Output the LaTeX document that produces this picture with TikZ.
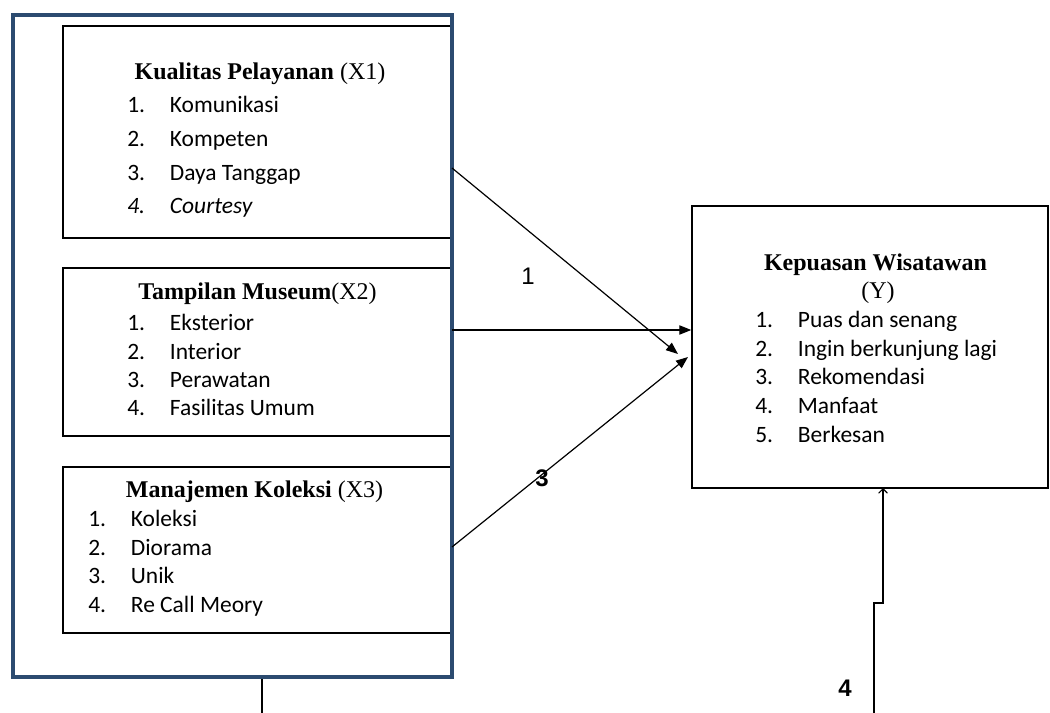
\documentclass[tikz,border=0pt]{standalone}
\usepackage{fontspec}
\setmainfont{Liberation Serif}
\newfontfamily\calfont{Carlito}
\newfontfamily\arialfont{Liberation Sans}
\usepackage{xcolor}
\usepackage{tikz}
\usetikzlibrary{arrows,arrows.meta,fit}

\definecolor{biruTua}{HTML}{2C4B70}
\newcommand{\nomor}[1]{\makebox[32pt][l]{#1}}

\tikzset{
	kotak/.style={draw=black,line width=1.1pt,inner sep=0pt},
	bingkai/.style={draw=biruTua,line width=3pt,inner sep=0pt},
	judul/.style={anchor=base,inner sep=0pt,font=\fontsize{18}{20}\selectfont},
	butir/.style={anchor=base west,inner sep=0pt,font=\calfont\fontsize{17.6}{20}\selectfont},
	angka/.style={inner sep=0pt,font=\arialfont\fontsize{18}{20}\selectfont}
}

\begin{document}
\begin{tikzpicture}[x=0.75pt,y=-0.75pt]
		\useasboundingbox (0,0) rectangle (1050,713);
		%
		\node[kotak,fit={(63,26) (452,238)}] (X1) {};
		\node[kotak,fit={(63,268) (452,436)}] (X2) {};
		\node[kotak,fit={(63,467) (452,633)}] (X3) {};
		\node[bingkai,fit={(13,15) (452,677)}] (luar) {};
		\node[kotak,fit={(692,206) (1048,488)}] (Y) {};
		%
		\node[judul] (judulX1) at (260,80) {\textbf{Kualitas Pelayanan} (X1)};
		\node[butir] (X1a) at (127,113) {\nomor{1.}Komunikasi};
		\node[butir] (X1b) at (127,147) {\nomor{2.}Kompeten};
		\node[butir] (X1c) at (127,181) {\nomor{3.}Daya Tanggap};
		\node[butir] (X1d) at (127,214) {\itshape\nomor{4.}Courtesy};
		%
		\node[judul] (judulX2) at (257.5,299) {\textbf{Tampilan Museum}(X2)};
		\node[butir] (X2a) at (127,330) {\nomor{1.}Eksterior};
		\node[butir] (X2b) at (127,359) {\nomor{2.}Interior};
		\node[butir] (X2c) at (127,387) {\nomor{3.}Perawatan};
		\node[butir] (X2d) at (127,415) {\nomor{4.}Fasilitas Umum};
		%
		\node[judul] (judulX3) at (254.5,497) {\textbf{Manajemen Koleksi} (X3)};
		\node[butir] (X3a) at (88,526) {\nomor{1.}Koleksi};
		\node[butir] (X3b) at (88,555) {\nomor{2.}Diorama};
		\node[butir] (X3c) at (88,583) {\nomor{3.}Unik};
		\node[butir] (X3d) at (88,612) {\nomor{4.}Re Call Meory};
		%
		\node[judul] (judulY) at (875.5,270) {\textbf{Kepuasan Wisatawan}};
		\node[judul] (judulY2) at (878,298) {(Y)};
		\node[butir] (Ya) at (755,327) {\nomor{1.}Puas dan senang};
		\node[butir] (Yb) at (755,356) {\nomor{2.}Ingin berkunjung lagi};
		\node[butir] (Yc) at (755,384) {\nomor{3.}Rekomendasi};
		\node[butir] (Yd) at (755,413) {\nomor{4.}Manfaat};
		\node[butir] (Ye) at (755,442) {\nomor{5.}Berkesan};
		%
		\coordinate (a1) at (452,168);
		\coordinate (b1) at (678,354);
		\coordinate (a2) at (452,330);
		\coordinate (a3) at (452,547);
		\coordinate (b3) at (688,357);
		\coordinate (c4) at (874,713);
		\coordinate (e4) at (874,603);
		\coordinate (t4) at (883,488);
		\coordinate (k0) at (262,713);
		%
		\path[->,line width=0.9pt,>={Triangle[length=9pt,width=7pt]}]
		(a1) edge (b1)
		(a2) edge (Y.west |- a2)
		(a3) edge (b3);
		\draw[->,line width=0.9pt,>=angle 90] (c4) -- (e4) -| (t4);
		\draw[line width=0.9pt] (luar.south -| k0) -- (k0);
		%
		\node[angka] (n1) at (528,276) {1};
		\node[angka] (n3) at (542,478) {\bfseries 3};
		\node[angka] (n4) at (845,688) {\bfseries 4};
	\end{tikzpicture}
\end{document}
